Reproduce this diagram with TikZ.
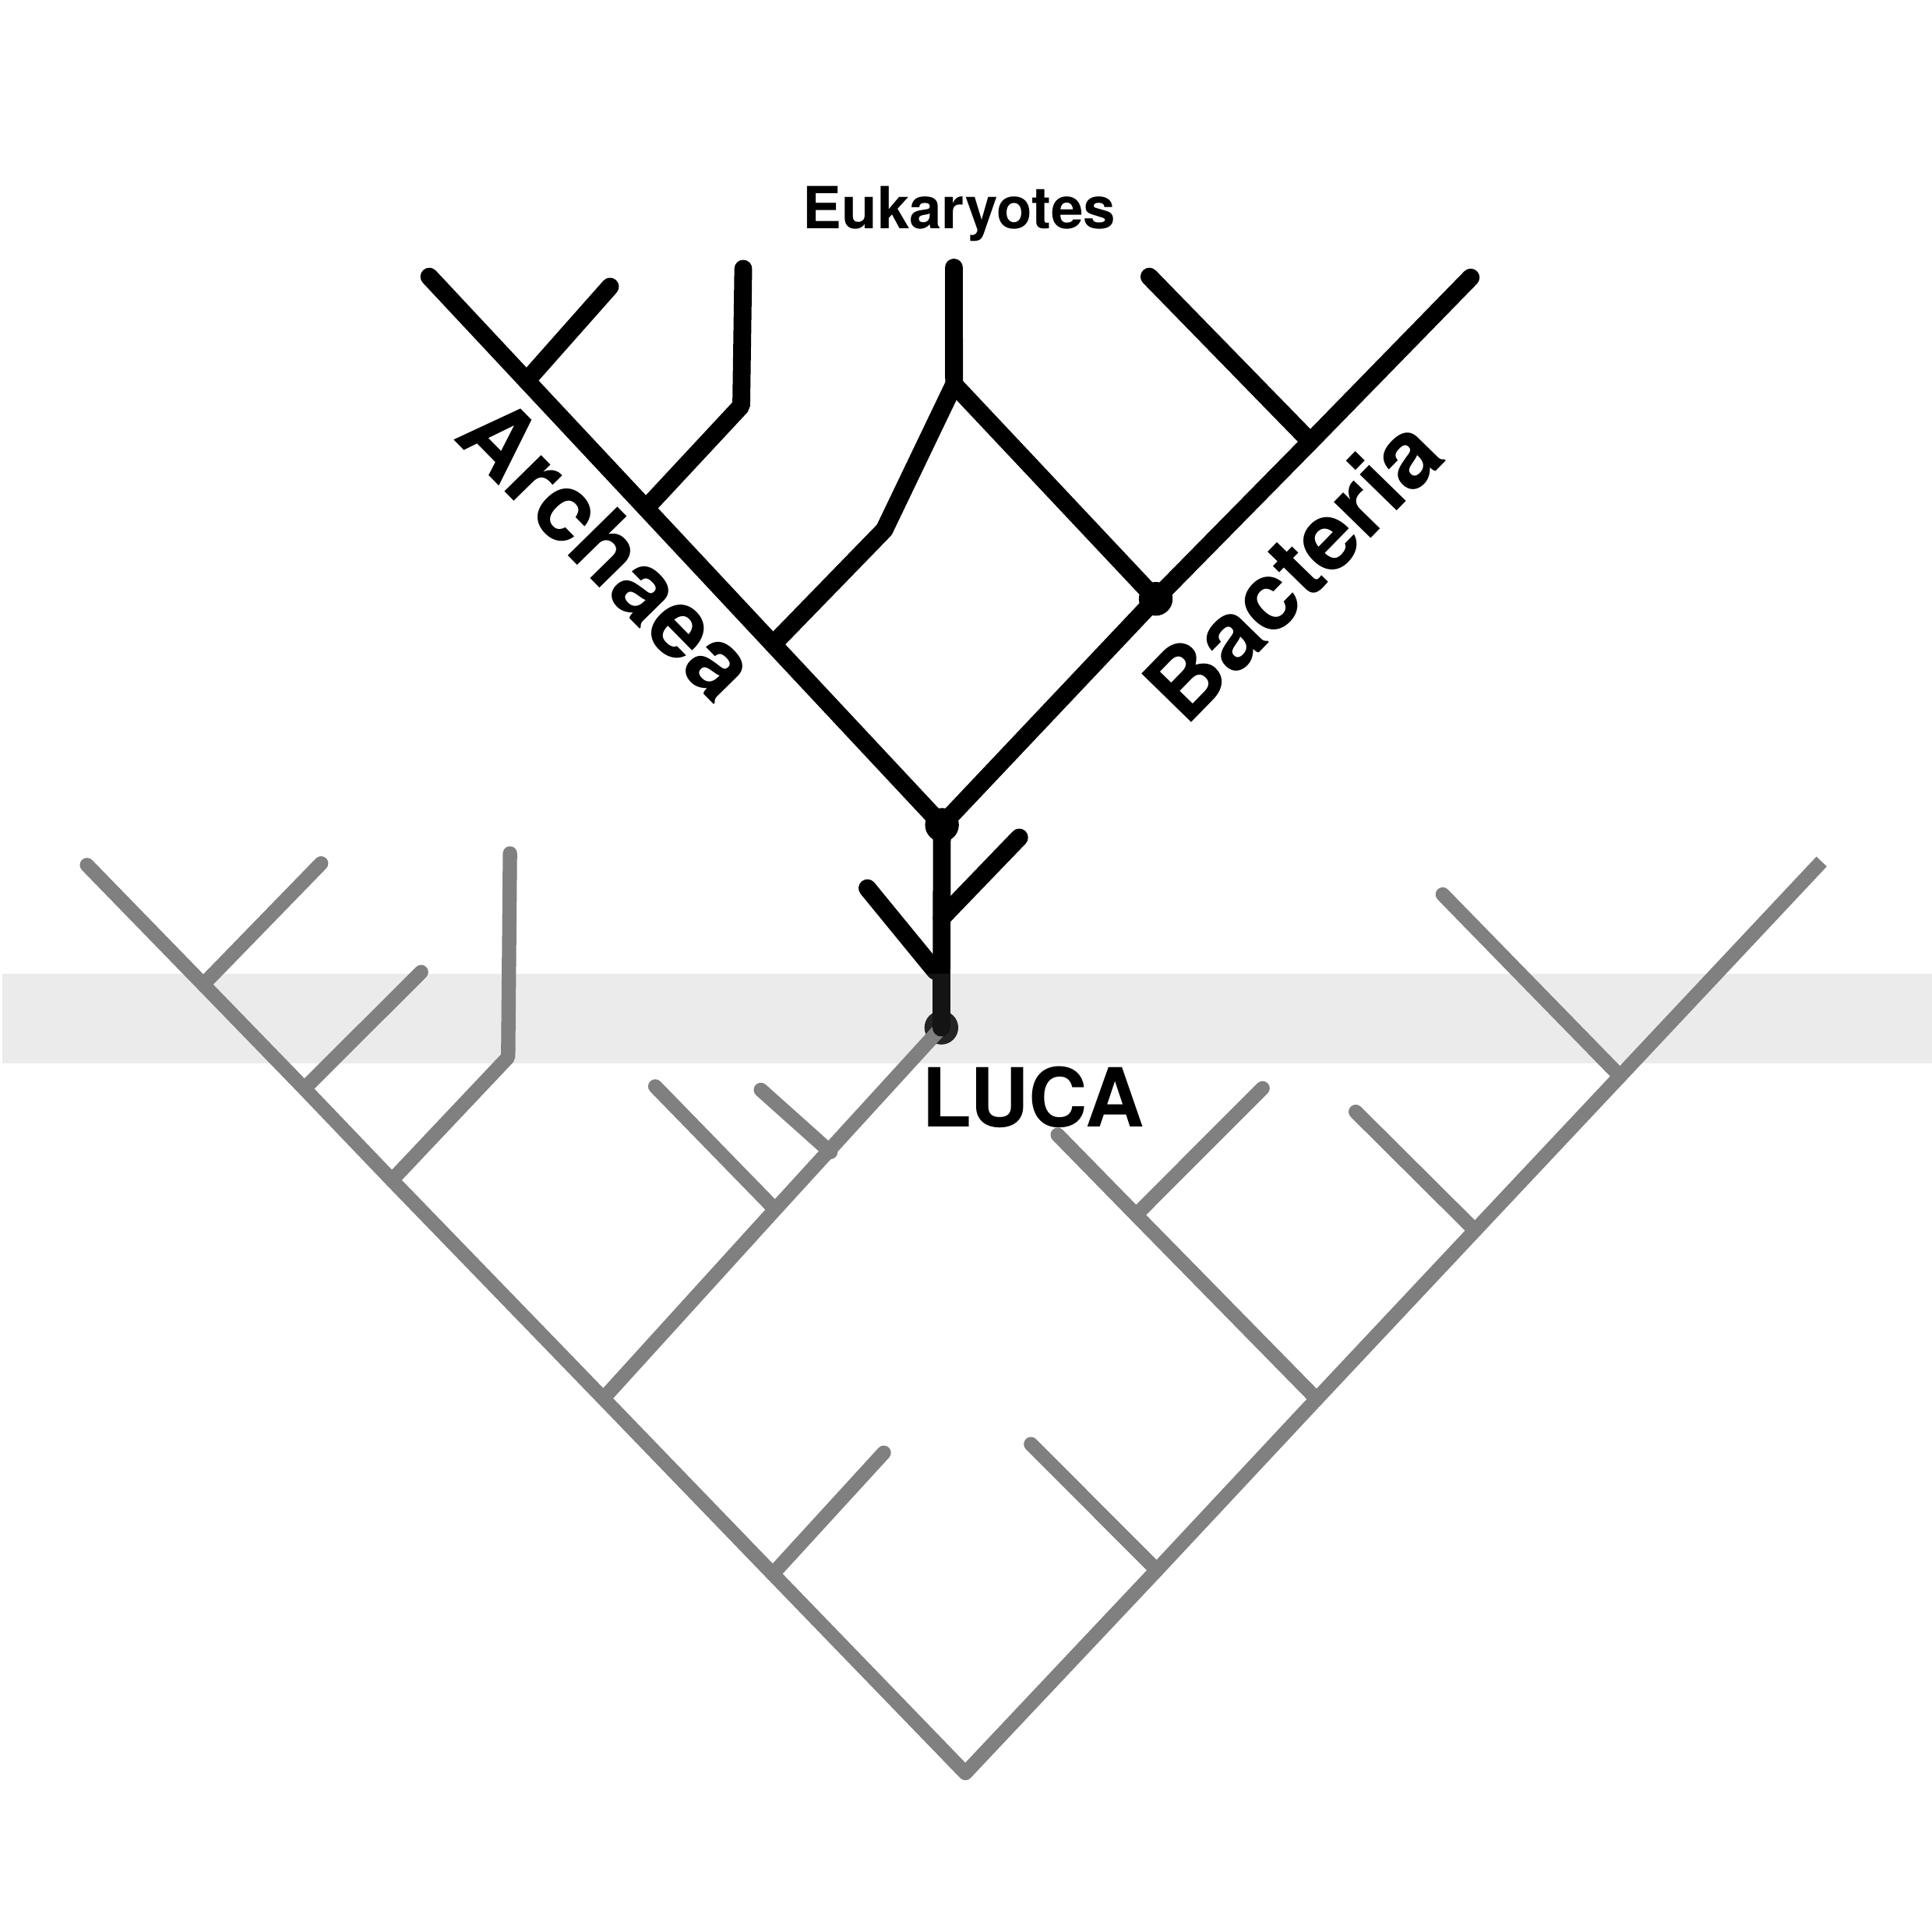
\documentclass[tikz,border=0pt]{standalone}
\usepackage{fontspec}
\setmainfont{TeX Gyre Heros}
\usepackage{tikz}

\begin{document}
\begin{tikzpicture}[x=0.01cm,y=-0.01cm,
  blk/.style={line width=4.1pt,line cap=round,line join=bevel,black},
  gry/.style={line width=3.3pt,line cap=round,line join=bevel,gtree},
  dot/.style={circle,fill=#1,draw=none,inner sep=0pt,minimum size=7.8pt},
  dot/.default=black,
  lbl/.style={font=\bfseries\fontsize{#1}{#1}\selectfont,anchor=base,inner sep=0pt}]
\definecolor{gtree}{HTML}{808080}
\useasboundingbox (0,0) rectangle (1568,1568);

% Gray tree: left half
\coordinate (root) at (783.5,1439);
\coordinate (l0) at (70.6,702);
\coordinate (lj1) at (165,799);
\coordinate (lt1) at (260.6,700.7);
\coordinate (lj2) at (247,883.5);
\coordinate (lt2) at (341.8,788.9);
\coordinate (lj3) at (318.1,957.8);
\coordinate (lb3) at (412.4,858);
\coordinate (lt3) at (413.9,692.6);
\coordinate (lj4) at (489.7,1135);
\coordinate (lj5) at (627.2,1277.4);
\coordinate (lt5) at (717.3,1179);
\coordinate (kj1) at (629.1,981.6);
\coordinate (kt1) at (531.8,881.7);
\coordinate (kj2) at (674,935);
\coordinate (kt2) at (617.5,884.5);
\node[dot=black!92] (luca) at (764,834) {};
\draw[gry] (l0) -- (lj1) -- (lj2) -- (lj3) -- (lj4) -- (lj5) -- (root);
\draw[gry] (lj1) -- (lt1);
\draw[gry] (lj2) -- (lt2);
\draw[gry] (lj3) -- (lb3) -- (lt3);
\draw[gry] (lj4) -- (kj1) -- (luca.center);
\draw[gry] (kj1) -- (kt1);
\draw[gry] (kj2) -- (kt2);
\draw[gry] (lj5) -- (lt5);

% Gray tree: right half
\coordinate (r0) at (1478.4,699.2);
\coordinate (rj1) at (938.8,1274.3);
\coordinate (rt1) at (836.7,1172);
\coordinate (rj2) at (1068.6,1135.4);
\coordinate (rb2) at (922,986);
\coordinate (rt2) at (858.4,921);
\coordinate (rs2) at (1024.7,883.2);
\coordinate (rj3) at (1197.1,998.6);
\coordinate (rt3) at (1100.3,902.3);
\coordinate (rj4) at (1314.8,873.4);
\coordinate (rt4) at (1170.9,725.9);
\draw[gry,line cap=butt] (root) -- (rj1) -- (rj2) -- (rj3) -- (rj4) -- (r0);
\draw[gry] (rj1) -- (rt1);
\draw[gry] (rj2) -- (rb2) -- (rt2);
\draw[gry] (rb2) -- (rs2);
\draw[gry] (rj3) -- (rt3);
\draw[gry] (rj4) -- (rt4);

% Black tree
\node[dot] (top) at (764.5,669.5) {};
\node[dot] (bac) at (938,486) {};
\coordinate (a1) at (348.4,224.5);
\coordinate (a2) at (427.4,309);
\coordinate (a3) at (495.1,232.6);
\coordinate (a4) at (524.2,412.5);
\coordinate (a5) at (601.6,329.4);
\coordinate (a6) at (603.2,218.1);
\coordinate (e1) at (627.4,522.9);
\coordinate (e2) at (717.7,430);
\coordinate (e3) at (774.3,312);
\coordinate (e4) at (774.2,217.1);
\coordinate (b1) at (1063.5,358.5);
\coordinate (b2) at (932.8,224.5);
\coordinate (b3) at (1193.6,225.2);
\coordinate (s1) at (764.3,745);
\coordinate (s2) at (827.2,679.7);
\coordinate (s3) at (759,788);
\coordinate (s4) at (704,720.8);
\draw[blk] (a1) -- (a2) -- (a4) -- (e1) -- (top.center);
\draw[blk] (a2) -- (a3);
\draw[blk] (a4) -- (a5) -- (a6);
\draw[blk] (e1) -- (e2) -- (e3) -- (e4);
\draw[blk] (e3) -- (bac.center);
\draw[blk] (top.center) -- (bac.center) -- (b1) -- (b3);
\draw[blk] (b1) -- (b2);
\draw[blk] (top.center) -- (luca.center);
\draw[blk] (s1) -- (s2);
\draw[blk] (s3) -- (s4);

% Time band over LUCA
\fill[gtree,opacity=0.157] (2,790) rectangle (1568,863);

% Labels
\node[lbl=13.4] (euk) at (778.5,185.5) {Eukaryotes};
\node[lbl=18.8] (lucalbl) at (838.5,914.7) {LUCA};
\node[lbl=22,rotate=-45.5] (arc) at (474.2,464.4) {Archaea};
\node[lbl=22,rotate=45.7] (bact) at (1069,481.5) {Bacteria};
\end{tikzpicture}
\end{document}
